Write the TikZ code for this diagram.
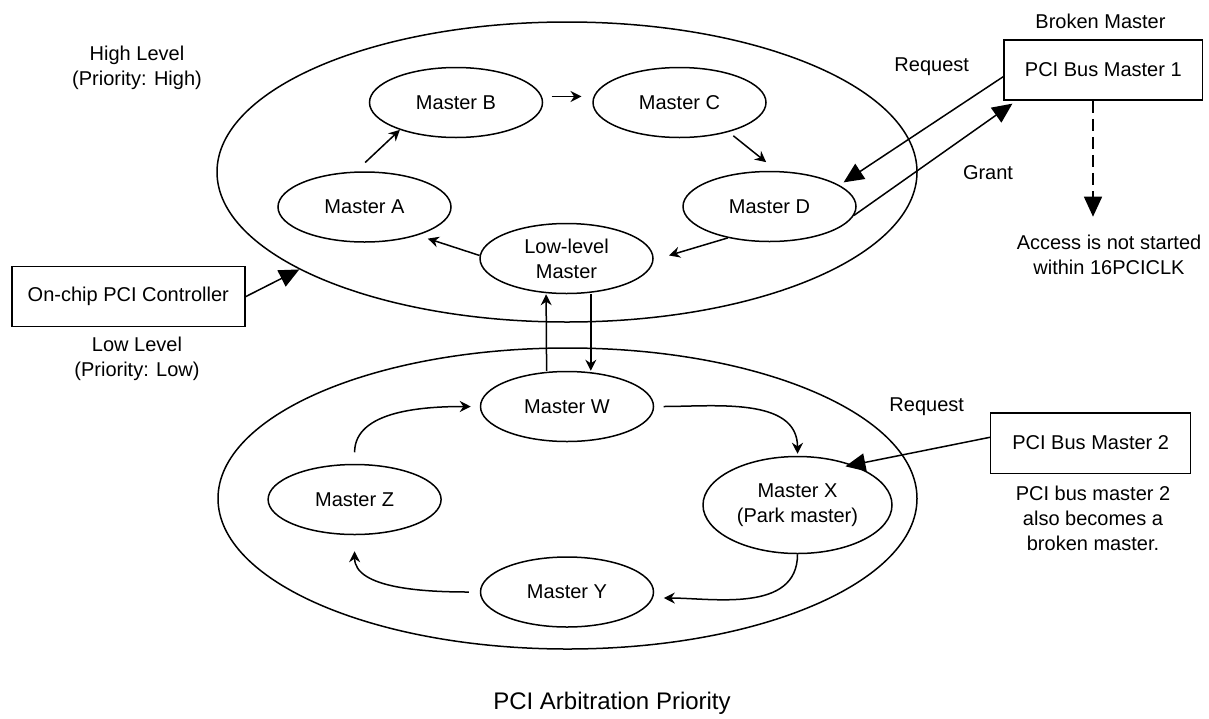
\documentclass[tikz,border=0pt]{standalone}
\usepackage{fontspec}
\setmainfont{Liberation Sans}
\usetikzlibrary{arrows.meta,calc,shapes.geometric}
\begin{document}
\begin{tikzpicture}[x=0.5pt,y=0.5pt,
  every node/.style={font=\fontsize{10}{12.5}\selectfont, inner sep=0pt, align=center},
  ring/.style={draw, ellipse, line width=0.75pt},
  mst/.style={draw, ellipse, line width=0.75pt, minimum width=86.5pt, minimum height=35pt},
  box/.style={draw, rectangle, line width=0.75pt},
  arr/.style={line width=0.75pt, -{Stealth[length=5.5pt,width=5.5pt,inset=1.8pt]}},
  bigarr/.style={line width=0.75pt, -{Triangle[length=10pt,width=9pt]}}]
\useasboundingbox (0,0) rectangle (1209,-718);

% outer rings
\node[ring, minimum width=350pt, minimum height=150pt] (HT) at (567,-172) {};
\node[ring, minimum width=349.5pt, minimum height=150.5pt] (LT) at (567.5,-498.5) {};

% high level masters
\node[mst] (A) at (364.5,-207) {Master A};
\node[mst] (B) at (456,-102.5) {Master B};
\node[mst] (C) at (679.5,-102.5) {Master C};
\node[mst] (D) at (769.5,-206.5) {Master D};
\node[mst] (L) at (566.5,-258.5) {Low-level\\Master};

% low level masters
\node[mst] (W) at (567,-406.5) {Master W};
\node[mst] (Z) at (354.6,-499.5) {Master Z};
\node[mst] (Y) at (567,-592) {Master Y};
\node[mst, minimum width=94.5pt, minimum height=48.5pt] (X) at (797.5,-505) {Master X\\(Park master)};

% boxes
\node[box, minimum width=116.5pt, minimum height=30pt] (ctrl) at (128.3,-296.7) {On-chip PCI Controller};
\node[box, minimum width=99.35pt, minimum height=30pt] (PB1) at (1103.3,-70) {PCI Bus Master 1};
\node[box, minimum width=100pt, minimum height=30.25pt] (PB2) at (1090.7,-443) {PCI Bus Master 2};

% labels
\node (hl) at (137,-68) {High Level\\(Priority: High)};
\node (ll) at (137,-359) {Low Level\\(Priority: Low)};
\node (bm) at (1100.5,-21.7) {Broken Master};
\node (rq1) at (931.7,-66.7) {Request};
\node (gr) at (988,-173) {Grant};
\node (acc) at (1109,-255) {Access is not started\\within 16PCICLK};
\node (rq2) at (926.7,-406.7) {Request};
\node (bm2) at (1093,-518) {PCI bus master 2\\also becomes a\\broken master.};
\node[font=\fontsize{12}{14}\selectfont] (title) at (612,-703) {PCI Arbitration Priority};

% high ring arrows
\draw[arr, shorten <=6.5pt] (A.104) -- (B.206);
\draw[arr, shorten <=4.8pt, shorten >=6pt] (B.4) -- (C.176);
\draw[arr, shorten <=3pt, shorten >=7pt] (C.-31) -- (D.78);
\draw[arr, shorten >=8pt] (D.217) -- (L.-1);
\draw[arr, shorten >=5.3pt] (L.178) -- (A.-28);

% between levels
\draw[arr] ([xshift=-10.2pt]W.north) -- ([xshift=-10.2pt]L.south);
\draw[arr] ([xshift=12.15pt]L.south) -- ([xshift=12.15pt]L.south |- W.north);

% low ring arrows
\draw[arr, shorten <=5.75pt, shorten >=4.5pt] (Z.north) to[out=90,in=180] (W.west);
\draw[arr, shorten <=4.7pt, shorten >=1pt] (W.east) to[out=0,in=90] (X.north);
\draw[arr, shorten >=5.4pt] (X.south) to[out=-90,in=0] (Y.-4);
\draw[arr, shorten <=5.5pt, shorten >=8pt] (Y.west) to[out=180,in=-90] (Z.south);

% big arrows
\draw[bigarr] (ctrl.east) -- (HT.200);
\draw[bigarr, shorten >=2.5pt] ([yshift=-3.35pt]PB1.west) -- (D.17);
\draw[bigarr, shorten >=2.5pt] (D.-6) -- ([xshift=6.65pt]PB1.south west);
\coordinate (dend) at (1093,-216.7);
\draw[bigarr, dash pattern=on 6pt off 3pt] ([xshift=-5.15pt]PB1.south) -- (dend);
\draw[bigarr, shorten >=-3.75pt] ([yshift=2.85pt]PB2.west) -- (X.36);
\end{tikzpicture}
\end{document}
